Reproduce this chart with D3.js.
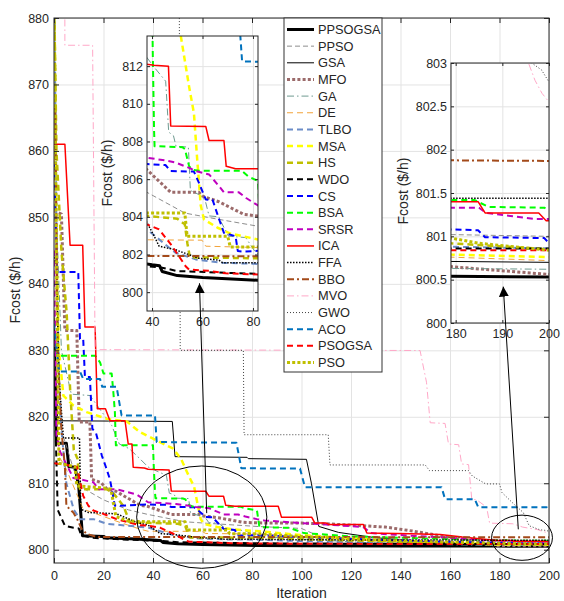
<!DOCTYPE html>
<html>
<head>
<meta charset="utf-8">
<script src="https://cdn.jsdelivr.net/npm/d3@7"></script>
<style>
  body { margin: 0; background: #fff; }
  svg { display: block; }
  text { font-family: "Liberation Sans", Arial, Helvetica, sans-serif; fill: #262626; }
</style>
</head>
<body>
<svg id="chart" width="564" height="601"></svg>
<script>
// ---- convergence curves: [iteration, fuel cost $/h] ----
const seriesNames = ["PPSOGSA","PPSO","GSA","MFO","GA","DE","TLBO","MSA","HS","WDO","CS","BSA","SRSR","ICA","FFA","BBO","MVO","GWO","ACO","PSOGSA","PSO"];

const PPSOGSA = [[0,830.5],[1,816],[5,816],[6,812.5],[8.5,812.4],[10,809.5],[11.5,802.1],[20,802],[21,801.8],[33,801.6],[40,801.45],[43,801.4],[44,801.1],[50,800.88],[60,800.78],[82,800.63],[100,800.58],[140,800.55],[179,800.54],[200,800.53]];
const PPSO = [[0,829],[3,818],[8,812],[12,809.2],[20,807.5],[30,806],[38,805.3],[53,804.2],[65,803.9],[82,803.5],[100,803.2],[106,802.2],[120,801.6],[150,801.2],[179,801.02],[200,801.0]];
const GSA = [[0,835],[1.5,819.4],[47.8,819.3],[48.9,814],[78,813.9],[78.5,813.7],[102,813.6],[104,810],[107,803.5],[115,802.6],[130,801.8],[150,801.2],[170,800.85],[179,800.71],[200,800.7]];
const MFO = [[0,851],[3,850.5],[4.4,833],[9.2,833],[10.2,819.2],[14.5,819.2],[15.2,810.6],[19,810.1],[21.5,809.1],[25,808.8],[34.7,806.7],[38,806.5],[47.4,805.3],[58.6,805.3],[60,805.1],[66.5,804.8],[76.4,804.13],[82,804.04],[100,804.0],[110,803.9],[125,803.6],[134,803.4],[145,802.8],[156,802.1],[170,801.2],[179,800.65],[200,800.56]];
const GA = [[0,895],[1,850],[3,830],[7,823.4],[14.5,823.2],[23.3,818.7],[26.4,815.9],[30.4,815.2],[34.4,813.8],[38,812.45],[40.5,812.0],[45.4,811.2],[46.6,808.5],[48.5,808.3],[49.5,807.75],[54.4,807.7],[55.2,805.4],[59.8,805.1],[61.3,804.75],[62.6,804.05],[66.5,804.0],[67.1,803.8],[70.3,802.97],[77.1,802.9],[81.1,802.1],[82,802.05],[100,801.6],[130,801.0],[160,800.75],[179,800.63],[200,800.62]];
const DE = [[0,868],[1,830],[2,814],[4.4,812.6],[11.8,806.1],[26.7,804.1],[34.7,803.1],[38,802.78],[59.8,802.76],[61.3,802.44],[82,802.37],[100,802.0],[130,801.3],[160,800.9],[179,800.76],[200,800.72]];
const TLBO = [[0,890],[1,848],[2,826],[3,818],[5,810],[8,806],[10.5,804.6],[16,804.6],[21.3,803.9],[30,803.6],[38,803.33],[49.3,802.09],[57.3,801.74],[67.9,801.56],[82,801.5],[100,801.3],[140,801.0],[179,800.88],[200,800.86]];
const MSA = [[0,867],[1,845],[2,830],[3.8,823.2],[7.8,821.7],[13.2,820.7],[21.3,819.7],[29.4,819.3],[34.7,817.7],[48.2,815.2],[51.4,813.6],[54.7,810.9],[56.6,809.5],[57.9,807.05],[59.3,804.6],[60.6,803.86],[66,803.42],[71.3,803.1],[82,802.8],[100,802.2],[130,801.5],[179,800.79],[200,800.76]];
const HS = [[0,885],[1,860],[3,845],[5.1,835.7],[6.5,824.2],[8,815],[9.5,813.7],[10.5,809.1],[21.3,809.1],[24,808.5],[28,806.6],[30.7,804.1],[38,804.04],[50,803.9],[53,803.6],[54,802.6],[55,801.85],[82,801.8],[100,801.6],[140,801.2],[179,800.92],[200,800.85]];
const WDO = [[0,836],[0.5,820],[1.5,806],[4.4,803.6],[7.9,803.3],[10,803.2],[11,802.2],[15,801.8],[25,801.6],[38,801.38],[44,801.3],[50,801.12],[82,800.97],[100,800.93],[140,800.88],[179,800.86],[200,800.86]];
const CS = [[0,858],[1.3,841.8],[9.8,841.8],[10.5,831.7],[11.8,831.7],[12.5,826],[14.5,826],[15.5,818.2],[17,817.5],[19.3,814.2],[21,812.4],[22.6,810.6],[24.6,806.6],[38,806.8],[45.3,806.75],[47.4,806.43],[56.6,806.4],[58.6,805.8],[61.3,804.92],[64,804.9],[66.5,803.9],[68.5,803.15],[73.1,802.97],[74,802.18],[76,802.15],[82,802.2],[100,801.9],[130,801.5],[160,801.2],[179,801.08],[184.8,801.07],[186.3,800.99],[199,800.98],[200,800.92]];
const BSA = [[0,830],[1.3,829.2],[16.6,829.2],[18.6,828.2],[20,826.5],[23.3,826.5],[24,823.6],[24.6,820.7],[25,815.7],[40,815.7],[40.3,812.6],[40.8,808.6],[41,807.75],[52,807.7],[53,807.6],[54.7,806.69],[56,806.5],[58.6,806.45],[75.5,806.45],[78,806.16],[82,805.9],[83,803.4],[95,803.3],[101,802.5],[120,802.0],[150,801.7],[179,801.42],[184,801.42],[187,801.34],[199,801.33],[200,801.3]];
const SRSR = [[0,845],[1,817.2],[2.5,814.7],[7.8,810.8],[15.9,810.15],[18,809.1],[25.3,809.1],[33.4,808.3],[38,807.14],[45,807.0],[49.3,806.88],[54.7,806.6],[57.3,806.43],[62.6,806.25],[67.1,805.54],[68.5,805.3],[74.4,805.3],[77.3,805.0],[82,804.6],[85,804.4],[100,804.0],[110,803.8],[125,803.4],[128,802.5],[140,802.2],[160,801.8],[179,801.33],[185,801.33],[186.5,801.27],[197,801.2],[200,801.2]];
const ICA = [[0,861],[4.4,861],[6.5,845.8],[11.6,845.8],[12.5,833.5],[16.6,833.5],[17.5,821.2],[20.8,821.2],[22.6,819.4],[28.7,819.4],[30,815.9],[31.5,815.9],[32,812.4],[36.5,812.3],[38,812.1],[40.8,812.05],[46.5,812],[47.4,808.82],[61.3,808.8],[62.6,808.05],[68.5,808.05],[69.4,806.68],[73.1,806.55],[90.6,806.55],[91.9,804.9],[104.1,804.9],[105.4,804.0],[110,804.0],[111,803.8],[125,803.8],[126.4,802.5],[144,802.4],[156,802.3],[165,801.9],[179,801.4],[184.8,801.4],[186.3,801.27],[197.8,801.27],[199.4,801.18],[200,801.18]];
const FFA = [[0,844],[1,843],[2,826],[3.8,816.8],[10.3,816.8],[10.8,806.1],[13.9,805.6],[25.3,805.4],[33.4,804.1],[38,803.7],[41.5,802.8],[42.8,802.44],[49.3,802.25],[58.6,801.8],[66.5,801.7],[68,801.56],[82,801.56],[100,801.5],[140,801.45],[179,801.44],[200,801.44]];
const BBO = [[0,866.4],[0.5,866],[1.5,830],[3,818],[4.4,812.5],[5,806.6],[7.8,805.6],[9.5,804.5],[11.2,803.1],[13.2,802.4],[17.2,801.93],[200,801.87]];
const MVO = [[0,900],[4.3,900],[4.4,875.9],[15.6,875.9],[16.6,830.1],[147.9,829.97],[150.5,825.2],[152,819.1],[158,819.0],[159.4,815.9],[163.5,815.8],[164.7,812.9],[167.5,812.8],[168.8,807.6],[170.8,807.5],[174.8,806.4],[176,804.0],[185.4,803.9],[189.4,803.4],[195.6,803.0],[197,802.8],[198.5,802.65],[200,802.55]];
const GWO = [[0,900],[50.5,900],[51,830],[76.5,830],[76.8,817.3],[110.8,817.3],[111.5,812.75],[150,812.75],[151.7,811.9],[167.5,811.9],[169,811.1],[174.4,809.9],[180,809.9],[181,808.6],[185.7,806.9],[189.6,805.6],[192,803.6],[196.3,803.0],[198.4,802.92],[200,802.78]];
const ACO = [[0,834],[2,826.8],[10.5,826.8],[11.8,825.7],[18.6,825.7],[19.5,824.5],[25.3,824.5],[27.3,820.2],[40.8,820.2],[41.5,816.2],[73.7,816.1],[75.7,812.25],[99.4,812.2],[101.4,809.4],[156.6,809.4],[158,807.6],[170,807.6],[171.4,806.4],[199,806.4],[200,805.9]];
const PSOGSA = [[0,813],[5,812.75],[9.2,812.5],[11.8,808.1],[13.9,806.6],[15.9,805.9],[19.9,805.4],[25.3,804.6],[34.7,803.7],[38,803.6],[42.8,803.33],[48,802.44],[53.3,801.38],[54.7,801.2],[62.6,801.13],[69.2,801.0],[82,800.94],[100,800.9],[140,800.86],[179,800.84],[200,800.84]];
const PSO = [[0,885],[1,845],[2,813],[8.5,812.5],[9.2,809.6],[20,809.3],[23,809.1],[25,805],[30,804.3],[38,804.2],[53,804.2],[53.9,802.97],[70,802.97],[71,802.4],[82,802.4],[100,802.0],[140,801.3],[179,800.98],[185,800.92],[200,800.84]];

const seriesValues = [PPSOGSA, PPSO, GSA, MFO, GA, DE, TLBO, MSA, HS, WDO, CS, BSA, SRSR, ICA, FFA, BBO, MVO, GWO, ACO, PSOGSA, PSO];

// axis tick labels
const mainXTicks = [0,20,40,60,80,100,120,140,160,180,200];
const mainYTicks = [800,810,820,830,840,850,860,870,880];
const leftXTicks = [40,60,80];
const leftYTicks = [800,802,804,806,808,810,812];
const rightXTicks = [180,190,200];
const rightYTicks = [800,800.5,801,801.5,802,802.5,803];

// ---- line styles per algorithm ----
const styles = {
  PPSOGSA: {color:"#000000", w:3,   dash:null},
  PPSO:    {color:"#808080", w:0.9, dash:"5,3"},
  GSA:     {color:"#000000", w:1,   dash:null},
  MFO:     {color:"#9c6b6b", w:3,   dash:"3,2.2"},
  GA:      {color:"#6f9a90", w:1,   dash:"7,3,1.5,3"},
  DE:      {color:"#f2a33a", w:1,   dash:"6,4"},
  TLBO:    {color:"#6b8cc7", w:2,   dash:"6,4"},
  MSA:     {color:"#ffff00", w:2.5, dash:"6,4"},
  HS:      {color:"#bfbf00", w:2.5, dash:"6,4"},
  WDO:     {color:"#000000", w:2,   dash:"6,4"},
  CS:      {color:"#0000ff", w:2,   dash:"6,4"},
  BSA:     {color:"#00ff00", w:2,   dash:"6,4"},
  SRSR:    {color:"#bf00bf", w:2,   dash:"6,4"},
  ICA:     {color:"#ff0000", w:1.5, dash:null},
  FFA:     {color:"#000000", w:1.5, dash:"1.5,1.5"},
  BBO:     {color:"#a34a1a", w:2,   dash:"7,3,2,3"},
  MVO:     {color:"#ffa8c8", w:1,   dash:"7,3,1.5,3"},
  GWO:     {color:"#404040", w:1,   dash:"1,2"},
  ACO:     {color:"#0072bd", w:2,   dash:"6,4"},
  PSOGSA:  {color:"#ff0000", w:2,   dash:"6,4"},
  PSO:     {color:"#bfbf00", w:3,   dash:"3,2.2"}
};

const series = seriesNames.map((n, i) => ({name: n, values: seriesValues[i], style: styles[n]}));

const svg = d3.select("#chart");
const gridColor = "#e3e3e3";
const axisColor = "#262626";

// Draws one framed axes panel with grid, curves, ticks and labels.
function panel(cfg) {
  const {x, y, xTicks, yTicks, id, xPad, yPad, fontSize, xFormat, yFormat} = cfg;
  const [x0, x1] = x.range();
  const [y0, y1] = y.range(); // y0 bottom, y1 top
  const g = svg.append("g");

  if (cfg.fill) {
    g.append("rect").attr("x", x0).attr("y", y1).attr("width", x1 - x0).attr("height", y0 - y1).attr("fill", "#fff");
  }

  // grid
  g.append("g").attr("transform", `translate(0,${y0})`)
    .call(d3.axisBottom(x).tickValues(xTicks).tickSize(-(y0 - y1)).tickFormat(""))
    .call(a => { a.select(".domain").remove(); a.selectAll("line").attr("stroke", gridColor).attr("stroke-width", 1); });
  g.append("g").attr("transform", `translate(${x0},0)`)
    .call(d3.axisLeft(y).tickValues(yTicks).tickSize(-(x1 - x0)).tickFormat(""))
    .call(a => { a.select(".domain").remove(); a.selectAll("line").attr("stroke", gridColor).attr("stroke-width", 1); });

  // curves
  svg.append("clipPath").attr("id", id)
    .append("rect").attr("x", x0).attr("y", y1).attr("width", x1 - x0).attr("height", y0 - y1);
  const line = d3.line().x(d => x(d[0])).y(d => y(d[1]));
  const cg = g.append("g").attr("clip-path", `url(#${id})`);
  series.forEach(s => {
    cg.append("path").attr("d", line(s.values))
      .attr("fill", "none")
      .attr("stroke", s.style.color)
      .attr("stroke-width", s.style.w)
      .attr("stroke-dasharray", s.style.dash)
      .attr("stroke-linejoin", "round");
  });

  // frame
  g.append("rect").attr("x", x0).attr("y", y1).attr("width", x1 - x0).attr("height", y0 - y1)
    .attr("fill", "none").attr("stroke", axisColor).attr("stroke-width", 1);

  // ticks (inward) with labels on bottom and left
  const styleAxis = a => {
    a.select(".domain").remove();
    a.selectAll("line").attr("stroke", axisColor);
    a.selectAll("text").attr("font-size", fontSize).attr("fill", axisColor)
      .style("font-family", '"Liberation Sans", Arial, sans-serif');
  };
  g.append("g").attr("transform", `translate(0,${y0})`)
    .call(d3.axisBottom(x).tickValues(xTicks).tickSize(-cfg.tick).tickPadding(xPad).tickFormat(xFormat))
    .call(styleAxis);
  g.append("g").attr("transform", `translate(0,${y1})`)
    .call(d3.axisTop(x).tickValues(xTicks).tickSize(-cfg.tick).tickFormat(""))
    .call(styleAxis);
  g.append("g").attr("transform", `translate(${x0},0)`)
    .call(d3.axisLeft(y).tickValues(yTicks).tickSize(-cfg.tick).tickPadding(yPad).tickFormat(yFormat))
    .call(styleAxis);
  g.append("g").attr("transform", `translate(${x1},0)`)
    .call(d3.axisRight(y).tickValues(yTicks).tickSize(-cfg.tick).tickFormat(""))
    .call(styleAxis);

  // y label
  g.append("text")
    .attr("transform", `translate(${cfg.yLabelX},${cfg.yLabelY}) rotate(-90)`)
    .attr("text-anchor", "middle").attr("dominant-baseline", "central")
    .attr("font-size", 14).text("Fcost ($/h)");
  return g;
}

// main axes
const xMain = d3.scaleLinear().domain([0, 200]).range([54, 549]);
const yMain = d3.scaleLinear().domain([798, 880]).range([563, 18]);
panel({x: xMain, y: yMain, xTicks: mainXTicks, yTicks: mainYTicks, id: "clipMain",
  xPad: 8, yPad: 5, fontSize: 12.5, tick: 5, xFormat: d3.format("d"), yFormat: d3.format("d"),
  yLabelX: 15, yLabelY: 290, fill: false});

svg.append("text").attr("x", 301.5).attr("y", 598).attr("text-anchor", "middle")
  .attr("font-size", 14).text("Iteration");

// arrow head
const defs = svg.append("defs");
defs.append("marker").attr("id", "head").attr("viewBox", "0 0 10 10")
  .attr("refX", 10).attr("refY", 5).attr("markerWidth", 10).attr("markerHeight", 10)
  .attr("markerUnits", "userSpaceOnUse").attr("orient", "auto")
  .append("path").attr("d", "M0,0 L10,5 L0,10 Z").attr("fill", "#000");

// left inset scales
const xLeft = d3.scaleLinear().domain([38, 82]).range([147, 258]);
const yLeft = d3.scaleLinear().domain([799, 813.6]).range([311, 36]);
// right inset scales
const xRight = d3.scaleLinear().domain([179, 200]).range([451, 549]);
const yRight = d3.scaleLinear().domain([800, 803]).range([323, 63]);

const ann = svg.append("g");
// ellipse around iterations 35-85
ann.append("ellipse")
  .attr("cx", xMain(59.7)).attr("cy", yMain(804.9))
  .attr("rx", xMain(26.3) - xMain(0)).attr("ry", yMain(800) - yMain(807.7))
  .attr("fill", "none").attr("stroke", "#000").attr("stroke-width", 1);
// ellipse around the final iterations
ann.append("ellipse")
  .attr("cx", xMain(189.1)).attr("cy", yMain(801.8))
  .attr("rx", xMain(12.3) - xMain(0)).attr("ry", yMain(800) - yMain(803.4))
  .attr("fill", "none").attr("stroke", "#000").attr("stroke-width", 1);

// left inset
panel({x: xLeft, y: yLeft, xTicks: leftXTicks, yTicks: leftYTicks, id: "clipLeft",
  xPad: 6, yPad: 4, fontSize: 12.5, tick: 3, xFormat: d3.format("d"), yFormat: d3.format("d"),
  yLabelX: 107, yLabelY: 173, fill: true});

// right inset
panel({x: xRight, y: yRight, xTicks: rightXTicks, yTicks: rightYTicks, id: "clipRight",
  xPad: 6, yPad: 4, fontSize: 12.5, tick: 3, xFormat: d3.format("d"), yFormat: d => d % 1 === 0 ? d3.format("d")(d) : d3.format(".1f")(d),
  yLabelX: 403, yLabelY: 191, fill: true});

// arrows from the circled regions to the insets
const arrows = svg.append("g");
arrows.append("line")
  .attr("x1", xMain(61.7)).attr("y1", yMain(805.5))
  .attr("x2", xLeft(58.8)).attr("y2", yLeft(800.47))
  .attr("stroke", "#000").attr("stroke-width", 1).attr("marker-end", "url(#head)");
arrows.append("line")
  .attr("x1", xMain(187.6)).attr("y1", yMain(803.07))
  .attr("x2", xRight(190.2)).attr("y2", yRight(800.42))
  .attr("stroke", "#000").attr("stroke-width", 1).attr("marker-end", "url(#head)");

// legend
const lg = svg.append("g");
const lgX = 284, lgY = 18, lgW = 98, lgH = 354;
lg.append("rect").attr("x", lgX).attr("y", lgY).attr("width", lgW).attr("height", lgH)
  .attr("fill", "#fff").attr("stroke", "#333").attr("stroke-width", 1);
const rowY = d3.scalePoint().domain(seriesNames).range([29.5, 362.5]);
series.forEach(s => {
  const yy = rowY(s.name);
  lg.append("line").attr("x1", 287).attr("x2", 314).attr("y1", yy).attr("y2", yy)
    .attr("stroke", s.style.color).attr("stroke-width", s.style.w)
    .attr("stroke-dasharray", s.style.dash);
  lg.append("text").attr("x", 318).attr("y", yy).attr("dominant-baseline", "central")
    .attr("font-size", 12.8).attr("fill", "#000").text(s.name);
});
</script>
</body>
</html>
